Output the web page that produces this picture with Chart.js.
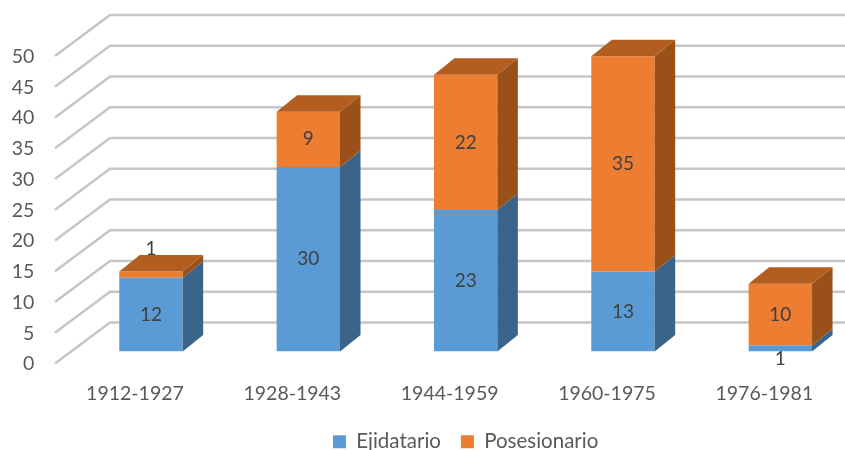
<!DOCTYPE html>
<html>
<head>
    <meta charset="utf-8">
    <title>Ejidatario y Posesionario</title>
    <script src="https://cdn.jsdelivr.net/npm/chart.js@4/dist/chart.umd.js"></script>
    <style>
        html, body { margin: 0; padding: 0; background: #fff; overflow: hidden; }
        /* the last category band runs past the right edge of the window */
        #wrap { width: 859px; height: 450px; }
    </style>
</head>
<body>
<div id="wrap"><canvas id="myChart"></canvas></div>

<script>
    const categories = ['1912-1927', '1928-1943', '1944-1959', '1960-1975', '1976-1981'];
    const ejidatario = [12, 30, 23, 13, 1];
    const posesionario = [1, 9, 22, 35, 10];
    const yMax = 50;
    const yStep = 5;

    // bar depth and wall position, relative to the plane the bars stand in
    const depthX = 20.5, depthY = 16.5;
    const wallLeft = 55, wallCorner = 110, wallFront = 12, wallBack = 29;

    const faces = [
        {side: '#3a6489', top: '#4a7dab'},
        {side: '#9a5119', top: '#b35e20'}
    ];

    function drawFace(ctx, pts, color) {
        ctx.fillStyle = color;
        ctx.beginPath();
        ctx.moveTo(pts[0][0], pts[0][1]);
        for (let i = 1; i < pts.length; i++) ctx.lineTo(pts[i][0], pts[i][1]);
        ctx.closePath();
        ctx.fill();
    }

    // the grid on the floor edge and the back wall
    const wallPlugin = {
        id: 'wall',
        beforeDatasetsDraw: function (chart) {
            const ctx = chart.ctx, y = chart.scales.y;
            ctx.save();
            ctx.strokeStyle = '#c6c6c6';
            ctx.lineWidth = 2.5;
            for (let v = 0; v <= yMax; v += yStep) {
                const p = y.getPixelForValue(v);
                ctx.beginPath();
                ctx.moveTo(wallLeft, p + wallFront);
                ctx.lineTo(wallCorner, p - wallBack);
                ctx.lineTo(chart.width, p - wallBack);
                ctx.stroke();
            }
            ctx.restore();
        }
    };

    // side and top faces of the boxes, then the value labels
    const boxPlugin = {
        id: 'box',
        afterDatasetsDraw: function (chart) {
            const ctx = chart.ctx;
            ctx.save();
            chart.data.datasets.forEach(function (ds, d) {
                chart.getDatasetMeta(d).data.forEach(function (bar) {
                    const r = bar.x + bar.width / 2;
                    drawFace(ctx, [[r, bar.base], [r + depthX, bar.base - depthY], [r + depthX, bar.y - depthY], [r, bar.y]], faces[d].side);
                });
            });
            const last = chart.data.datasets.length - 1;
            chart.getDatasetMeta(last).data.forEach(function (bar) {
                const l = bar.x - bar.width / 2, r = bar.x + bar.width / 2;
                drawFace(ctx, [[l, bar.y], [r, bar.y], [r + depthX, bar.y - depthY], [l + depthX, bar.y - depthY]], faces[last].top);
            });
            ctx.fillStyle = '#404040';
            ctx.font = '19px Lato';
            ctx.textAlign = 'center';
            ctx.textBaseline = 'middle';
            chart.data.datasets.forEach(function (ds, d) {
                chart.getDatasetMeta(d).data.forEach(function (bar, i) {
                    let ly = (bar.y + bar.base) / 2;
                    if (ds.data[i] === 1) ly += d === 0 ? 10 : -26;
                    ctx.fillText(ds.data[i], bar.x, ly);
                });
            });
            ctx.restore();
        }
    };

    new Chart(document.getElementById('myChart'), {
        type: 'bar',
        data: {
            labels: categories,
            datasets: [
                {label: 'Ejidatario', data: ejidatario, backgroundColor: '#5b9bd5'},
                {label: 'Posesionario', data: posesionario, backgroundColor: '#ed7d31'}
            ]
        },
        plugins: [wallPlugin, boxPlugin],
        options: {
            responsive: true,
            maintainAspectRatio: false,
            animation: false,
            layout: {padding: {top: 44, right: 0, bottom: -12, left: 0}},
            datasets: {bar: {barPercentage: 0.403, categoryPercentage: 1}},
            scales: {
                x: {
                    stacked: true,
                    grid: {display: false},
                    border: {display: false},
                    afterFit: function (scale) {
                        scale.height = 60;
                        scale.paddingLeft = 0;
                        scale.paddingRight = 0;
                    },
                    ticks: {
                        color: '#595959',
                        font: {family: 'Lato', size: 19.5},
                        padding: 23,
                        labelOffset: -16,
                        maxRotation: 0
                    }
                },
                y: {
                    stacked: true,
                    min: 0,
                    max: yMax,
                    grid: {display: false},
                    border: {display: false},
                    afterFit: function (scale) {
                        scale.width = 72.3;
                        scale.paddingTop = 0;
                        scale.paddingBottom = 0;
                    },
                    ticks: {
                        stepSize: yStep,
                        color: '#595959',
                        font: {family: 'Lato', size: 19.5},
                        padding: 30,
                        labelOffset: 12.5
                    }
                }
            },
            plugins: {
                tooltip: {enabled: false},
                legend: {
                    position: 'bottom',
                    fullSize: false,
                    labels: {
                        boxWidth: 13,
                        boxHeight: 13,
                        padding: 20,
                        color: '#595959',
                        font: {family: 'Lato', size: 20.5}
                    }
                }
            }
        }
    });
</script>
</body>
</html>
